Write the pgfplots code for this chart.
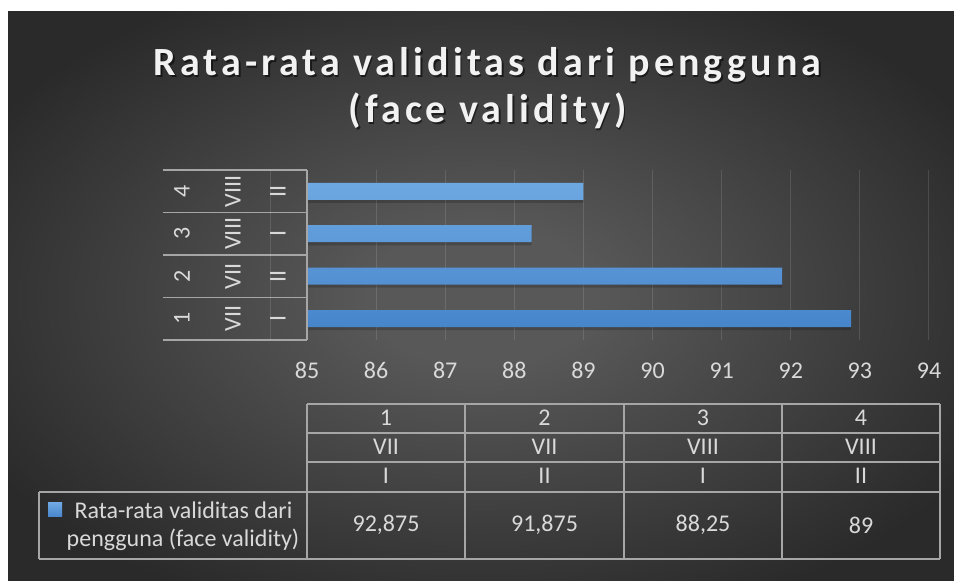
\documentclass[border=0pt]{standalone}
\usepackage{fontspec}
\setmainfont{Carlito}
\newfontfamily\titlefont[LetterSpace=10.3]{Carlito}
\usepackage{pgfplots}
\pgfplotsset{compat=1.18}
\definecolor{bgin}{HTML}{585858}
\definecolor{bgout}{HTML}{2A2A2A}
\definecolor{txt}{HTML}{D9D9D9}
\definecolor{tline}{HTML}{A6A6A6}
\definecolor{bartop}{HTML}{6EA8E2}
\definecolor{barbot}{HTML}{4785CB}
\pgfdeclareradialshading{bgshade}{\pgfpoint{0bp}{0bp}}{color(0bp)=(bgin); color(6bp)=(bgin); color(30bp)=(bgout); color(50bp)=(bgout)}
\newcommand{\tf}{\fontsize{24}{29}\selectfont}
\begin{document}
\begin{tikzpicture}[x=1pt,y=1pt]
\fill[white] (0,0) rectangle (954,581);
\shade[shading=bgshade] (8,0) rectangle (954,569);
% title
\begin{scope}[every node/.style={anchor=base, inner sep=0pt, font=\titlefont\bfseries\fontsize{40}{48}\selectfont}]
\node[text=black, opacity=0.55] at (489,503.5) {Rata-rata validitas dari pengguna};
\node[text=black, opacity=0.55] at (489,456.5) {(face validity)};
\node[text=white!95!black] at (487.5,505) {Rata-rata validitas dari pengguna};
\node[text=white!95!black] at (487.5,458) {(face validity)};
\end{scope}
\begin{axis}[at={(307pt,241pt)}, anchor=south west, scale only axis,
  width=622pt, height=170pt,
  xmin=85, xmax=94, ymin=0.5, ymax=4.5,
  xtick={85,86,...,94}, ytick=\empty,
  axis line style={draw=none},
  xmajorgrids, grid style={color=white, opacity=0.12, line width=1pt},
  major tick length=0pt,
  xticklabel style={font=\tf, text=txt, yshift=-19pt},
  /pgf/number format/assume math mode=true,
  clip mode=individual]
\addplot[xbar, bar width=17pt, bar shift=-3pt, draw=none, fill=black, opacity=0.18, forget plot]
  coordinates {(92.875,1) (91.875,2) (88.25,3) (89,4)};
\addplot[xbar, bar width=17pt, bar shift=0pt, draw=none, top color=bartop, bottom color=barbot]
  coordinates {(92.875,1) (91.875,2) (88.25,3) (89,4)};
% category table
\foreach \yy in {0.5,1.5,2.5,3.5,4.5}{
  \edef\tmp{\noexpand\draw[tline, line width=1.5pt] ([xshift=-144pt]axis cs:85,\yy) -- (axis cs:85,\yy);}\tmp
}
\draw[white, opacity=0.12, line width=1pt] ([xshift=-37pt]axis cs:85,0.5) -- ([xshift=-37pt]axis cs:85,4.5);
\draw[tline, line width=1.8pt] (axis cs:85,0.5) -- (axis cs:85,4.5);
\begin{scope}[every node/.style={rotate=90, text=txt, font=\tf, inner sep=0pt}]
\node at ([xshift=-125pt]axis cs:85,1) {1};
\node at ([xshift=-74pt]axis cs:85,1) {VII};
\node at ([xshift=-29pt]axis cs:85,1) {I};
\node at ([xshift=-125pt]axis cs:85,2) {2};
\node at ([xshift=-74pt]axis cs:85,2) {VII};
\node at ([xshift=-29pt]axis cs:85,2) {II};
\node at ([xshift=-125pt]axis cs:85,3) {3};
\node at ([xshift=-74pt]axis cs:85,3) {VIII};
\node at ([xshift=-29pt]axis cs:85,3) {I};
\node at ([xshift=-125pt]axis cs:85,4) {4};
\node at ([xshift=-74pt]axis cs:85,4) {VIII};
\node at ([xshift=-29pt]axis cs:85,4) {II};
\end{scope}
\end{axis}
% data table
\begin{scope}[tline, line width=1.5pt]
\draw (307,177) -- (940,177);
\draw (307,148) -- (940,148);
\draw (307,119) -- (940,119);
\draw (39,89) -- (940,89);
\draw (39,22) -- (940,22);
\draw (39,89) -- (39,22);
\foreach \xx in {307,465,624,782,940}{\draw (\xx,177) -- (\xx,22);}
\end{scope}
\begin{scope}[every node/.style={text=txt, font=\tf, inner sep=0pt}]
\node at (386,163) {1};
\node at (544.5,163) {2};
\node at (703,163) {3};
\node at (861,163) {4};
\node at (386,134) {VII};
\node at (544.5,134) {VII};
\node at (703,134) {VIII};
\node at (861,134) {VIII};
\node at (386,105) {I};
\node at (544.5,105) {II};
\node at (703,105) {I};
\node at (861,105) {II};
\node at (386,56) {92,875};
\node at (544.5,56) {91,875};
\node at (703,56) {88,25};
\node at (861,56) {89};
\node at (183.5,71) {Rata-rata validitas dari};
\node at (183,41) {pengguna (face validity)};
\end{scope}
\shade[top color=bartop, bottom color=barbot] (48,64) rectangle (62,78);
\end{tikzpicture}
\end{document}
